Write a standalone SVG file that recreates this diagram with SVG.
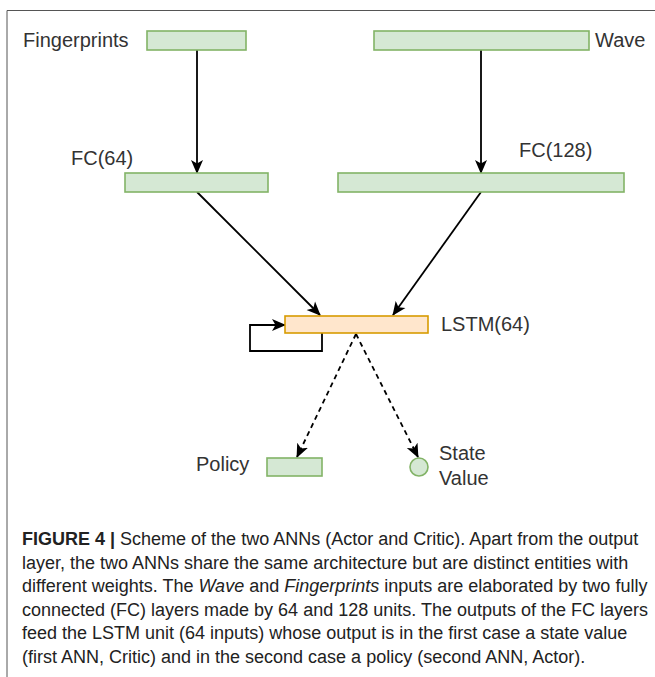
<svg xmlns="http://www.w3.org/2000/svg" width="655" height="677" viewBox="0 0 655 677">
<defs>
<style>
.lbl{font-family:"Liberation Sans",Arial,sans-serif;font-size:20px;fill:#333}
.cap{font-family:"Liberation Sans",Arial,sans-serif;font-size:18px;fill:#222}
.g{fill:#d5e8d4;stroke:#82b366;stroke-width:1.6}
.o{fill:#ffe6cc;stroke:#d79b00;stroke-width:1.6}
.c{fill:none;stroke:#000;stroke-width:1.8}
.d{fill:none;stroke:#000;stroke-width:1.8;stroke-dasharray:5 4}
</style>
<marker id="ah" markerUnits="userSpaceOnUse" markerWidth="14" markerHeight="14" viewBox="0 0 14 14" refX="13" refY="7" orient="auto">
<path d="M0,1 L14,7 L0,13 L3.5,7 z" fill="#000"/>
</marker>
</defs>
<rect width="655" height="677" fill="#fff"/>
<path d="M7,677 V10.5 H655" fill="none" stroke="#555" stroke-width="1"/>

<g id="connectors">
<line class="c" x1="197" y1="50" x2="197" y2="173" marker-end="url(#ah)"/>
<line class="c" x1="481" y1="50" x2="481" y2="173" marker-end="url(#ah)"/>
<line class="c" x1="197" y1="192" x2="320" y2="315" marker-end="url(#ah)"/>
<line class="c" x1="481" y1="192" x2="393" y2="315" marker-end="url(#ah)"/>
<path class="c" d="M322,333 V351 H250 V325 H285" marker-end="url(#ah)"/>
<line class="d" x1="356" y1="334" x2="297" y2="457" marker-end="url(#ah)"/>
<line class="d" x1="356" y1="334" x2="418" y2="457" marker-end="url(#ah)"/>
</g>

<g id="fingerprints">
<rect class="g" x="147" y="31" width="99" height="19"/>
<text class="lbl" x="23" y="47">Fingerprints</text>
</g>
<g id="wave">
<rect class="g" x="374" y="31" width="215" height="19"/>
<text class="lbl" x="595" y="47">Wave</text>
</g>
<g id="fc64">
<rect class="g" x="125" y="173" width="143" height="19"/>
<text class="lbl" x="71" y="165">FC(64)</text>
</g>
<g id="fc128">
<rect class="g" x="338" y="173" width="286" height="19"/>
<text class="lbl" x="519" y="157">FC(128)</text>
</g>
<g id="lstm">
<rect class="o" x="285" y="316" width="143" height="17"/>
<text class="lbl" x="441" y="331">LSTM(64)</text>
</g>
<g id="policy">
<rect class="g" x="267" y="458" width="55" height="18"/>
<text class="lbl" x="196" y="471">Policy</text>
</g>
<g id="state-value">
<circle class="g" cx="419" cy="467" r="9"/>
<text class="lbl" x="439" y="460">State</text>
<text class="lbl" x="439" y="485">Value</text>
</g>

<g id="caption">
<text class="cap" x="22" y="545"><tspan font-weight="bold">FIGURE 4 |</tspan> Scheme of the two ANNs (Actor and Critic). Apart from the output</text>
<text class="cap" x="22" y="568.5">layer, the two ANNs share the same architecture but are distinct entities with</text>
<text class="cap" x="22" y="592">different weights. The <tspan font-style="italic">Wave</tspan> and <tspan font-style="italic">Fingerprints</tspan> inputs are elaborated by two fully</text>
<text class="cap" x="22" y="615.5">connected (FC) layers made by 64 and 128 units. The outputs of the FC layers</text>
<text class="cap" x="22" y="639">feed the LSTM unit (64 inputs) whose output is in the first case a state value</text>
<text class="cap" x="22" y="662.5">(first ANN, Critic) and in the second case a policy (second ANN, Actor).</text>
</g>
</svg>
